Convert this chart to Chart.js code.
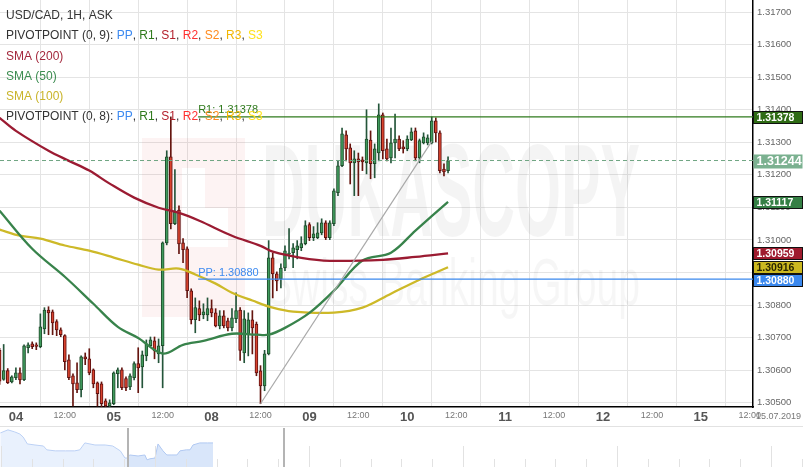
<!DOCTYPE html>
<html>
<head>
<meta charset="utf-8">
<script src="https://cdn.jsdelivr.net/npm/chart.js@4.4.0/dist/chart.umd.min.js"></script>
<style>
  html, body { margin: 0; padding: 0; background: #fff; }
  #wrap { position: relative; width: 803px; height: 467px; overflow: hidden; }
  #main { position: absolute; left: 0; top: 0; width: 803px; height: 425px; }
  #nav { position: absolute; left: 0; top: 425px; width: 803px; height: 42px; }
</style>
</head>
<body>
<div id="wrap">
  <div id="main"><canvas id="priceChart"></canvas></div>
  <div id="nav"><canvas id="navChart"></canvas></div>
</div>
<script>
// Categories: hours counted from 04.07 00:00, week-ends removed
const dayLabels = ['04', '05', '08', '09', '10', '11', '12', '15'];
const firstHour = -4; // first visible candle (03.07 20:00)

// USD/CAD 1H candles
const opens = [
  1.30661, 1.30572, 1.30599, 1.30564, 1.30577, 1.30592, 1.30571, 1.30669, 1.30681, 1.30678,
  1.30672, 1.30727, 1.30785, 1.30779, 1.30749, 1.30724, 1.30706, 1.30632, 1.30583, 1.30561,
  1.30540, 1.30641, 1.30635, 1.30601, 1.30561, 1.30558, 1.30506, 1.30490, 1.30497, 1.30589,
  1.30601, 1.30574, 1.30549, 1.30577, 1.30620, 1.30610, 1.30644, 1.30675, 1.30690, 1.30650,
  1.30675, 1.30991, 1.31255, 1.31050, 1.31092, 1.30991, 1.30973, 1.30844, 1.30755, 1.30789,
  1.30770, 1.30770, 1.30789, 1.30776, 1.30736, 1.30767, 1.30752, 1.30730, 1.30758, 1.30785,
  1.30653, 1.30712, 1.30755, 1.30742, 1.30598, 1.30552, 1.30650, 1.30945, 1.30896, 1.30880,
  1.30914, 1.30957, 1.30961, 1.30970, 1.30976, 1.30989, 1.31047, 1.31007, 1.31007, 1.31022,
  1.31053, 1.31007, 1.31050, 1.31145, 1.31228, 1.31323, 1.31283, 1.31237, 1.31249, 1.31246,
  1.31237, 1.31307, 1.31234, 1.31267, 1.31384, 1.31280, 1.31252, 1.31298, 1.31310, 1.31286,
  1.31280, 1.31307, 1.31335, 1.31252, 1.31298, 1.31298, 1.31298, 1.31366, 1.31329, 1.31218,
  1.31213
];
const highs = [
  1.30667, 1.30679, 1.30605, 1.30583, 1.30607, 1.30607, 1.30678, 1.30684, 1.30687, 1.30684,
  1.30773, 1.30792, 1.30795, 1.30785, 1.30755, 1.30730, 1.30709, 1.30647, 1.30589, 1.30623,
  1.30644, 1.30653, 1.30666, 1.30604, 1.30564, 1.30564, 1.30512, 1.30509, 1.30595, 1.30607,
  1.30607, 1.30580, 1.30589, 1.30626, 1.30669, 1.30659, 1.30693, 1.30702, 1.30702, 1.30696,
  1.30994, 1.31274, 1.31378, 1.31216, 1.31105, 1.31004, 1.30979, 1.30850, 1.30822, 1.30813,
  1.30804, 1.30822, 1.30816, 1.30789, 1.30783, 1.30783, 1.30760, 1.30789, 1.30838, 1.30792,
  1.30783, 1.30776, 1.30783, 1.30748, 1.30614, 1.30661, 1.30998, 1.30960, 1.30902, 1.30927,
  1.30982, 1.31035, 1.30989, 1.30998, 1.31010, 1.31059, 1.31053, 1.31041, 1.31053, 1.31065,
  1.31059, 1.31059, 1.31157, 1.31243, 1.31344, 1.31335, 1.31295, 1.31274, 1.31267, 1.31255,
  1.31400, 1.31335, 1.31295, 1.31418, 1.31390, 1.31310, 1.31344, 1.31387, 1.31320, 1.31305,
  1.31320, 1.31344, 1.31344, 1.31310, 1.31329, 1.31323, 1.31378, 1.31375, 1.31335, 1.31234,
  1.31255
];
const lows = [
  1.30556, 1.30569, 1.30559, 1.30561, 1.30571, 1.30558, 1.30568, 1.30653, 1.30666, 1.30663,
  1.30669, 1.30712, 1.30709, 1.30709, 1.30706, 1.30703, 1.30601, 1.30571, 1.30490, 1.30531,
  1.30518, 1.30617, 1.30586, 1.30546, 1.30490, 1.30488, 1.30486, 1.30486, 1.30494, 1.30546,
  1.30540, 1.30537, 1.30540, 1.30570, 1.30531, 1.30546, 1.30629, 1.30672, 1.30635, 1.30623,
  1.30546, 1.30985, 1.31034, 1.31047, 1.30958, 1.30930, 1.30823, 1.30742, 1.30715, 1.30752,
  1.30758, 1.30752, 1.30764, 1.30733, 1.30727, 1.30730, 1.30721, 1.30721, 1.30746, 1.30630,
  1.30623, 1.30644, 1.30650, 1.30583, 1.30497, 1.30537, 1.30647, 1.30822, 1.30844, 1.30853,
  1.30906, 1.30942, 1.30915, 1.30942, 1.30967, 1.30985, 1.30998, 1.30998, 1.31004, 1.31016,
  1.31001, 1.31001, 1.31044, 1.31136, 1.31225, 1.31243, 1.31172, 1.31136, 1.31136, 1.31213,
  1.31203, 1.31188, 1.31191, 1.31243, 1.31249, 1.31243, 1.31237, 1.31252, 1.31274, 1.31267,
  1.31274, 1.31305, 1.31243, 1.31237, 1.31295, 1.31292, 1.31295, 1.31301, 1.31206, 1.31197,
  1.31206
];
const closes = [
  1.30566, 1.30599, 1.30562, 1.30580, 1.30592, 1.30570, 1.30675, 1.30678, 1.30672, 1.30673,
  1.30733, 1.30785, 1.30776, 1.30745, 1.30724, 1.30709, 1.30626, 1.30577, 1.30558, 1.30540,
  1.30641, 1.30635, 1.30592, 1.30558, 1.30528, 1.30497, 1.30490, 1.30500, 1.30592, 1.30601,
  1.30546, 1.30546, 1.30583, 1.30620, 1.30607, 1.30647, 1.30681, 1.30693, 1.30659, 1.30675,
  1.30991, 1.31255, 1.31050, 1.31086, 1.30988, 1.30970, 1.30844, 1.30755, 1.30792, 1.30770,
  1.30779, 1.30789, 1.30776, 1.30736, 1.30767, 1.30736, 1.30730, 1.30761, 1.30783, 1.30661,
  1.30758, 1.30755, 1.30730, 1.30592, 1.30552, 1.30650, 1.30945, 1.30896, 1.30874, 1.30914,
  1.30967, 1.30960, 1.30976, 1.30982, 1.30989, 1.31044, 1.31007, 1.31019, 1.31022, 1.31053,
  1.31007, 1.31053, 1.31151, 1.31228, 1.31326, 1.31280, 1.31237, 1.31249, 1.31240, 1.31240,
  1.31310, 1.31234, 1.31280, 1.31384, 1.31274, 1.31249, 1.31298, 1.31310, 1.31280, 1.31280,
  1.31310, 1.31332, 1.31252, 1.31305, 1.31317, 1.31314, 1.31366, 1.31329, 1.31213, 1.31209,
  1.31244
];

// Moving averages (read at a few hours)
const sma200Hours = [-4, 0, 8, 13, 18, 23, 29, 35, 40, 45, 53, 60, 63, 70, 77, 90, 98, 106];
const sma200Values = [1.31375, 1.31335, 1.31274, 1.31243, 1.31213, 1.31173, 1.31130, 1.31099, 1.31083,
  1.31059, 1.31013, 1.30982, 1.30964, 1.30945, 1.30936, 1.30939, 1.30948, 1.30959];
const sma50Hours = [-4, 4, 12, 19, 25, 30, 36, 41, 46, 53, 59, 62, 66, 72, 78, 85, 92, 98, 106];
const sma50Values = [1.31090, 1.30973, 1.30887, 1.30804, 1.30733, 1.30699, 1.30651, 1.30678, 1.30690,
  1.30712, 1.30709, 1.30709, 1.30730, 1.30776, 1.30844, 1.30937, 1.30961, 1.31029, 1.31117];
const sma100Hours = [-4, 1, 6, 12, 18, 24, 30, 35, 40, 44, 49, 53, 58, 63, 68, 78, 85, 92, 99, 106];
const sma100Values = [1.31032, 1.31013, 1.31004, 1.30983, 1.30967, 1.30946, 1.30924, 1.30909, 1.30912,
  1.30894, 1.30866, 1.30838, 1.30814, 1.30792, 1.30780, 1.30777, 1.30792, 1.30835, 1.30878, 1.30916];

// Pivot points and trend line
const pivotStart = 44.7;
const ppLevel = 1.30880;
const r1Level = 1.31378;
const trendHours = [60, 102];
const trendValues = [1.30497, 1.31303];

// Navigator (overview of the previous days)
const navHours = [-155, -146, -138, -132, -128, -123, -114, -104, -100, -90, -78, -67, -61, -55, -43, -31,
  -22, -13, -7.5, -5, -2, 8, 16, 18.6, 22, 28, 31.6, 37.5, 42, 48, 54, 57.6, 65, 69.5, 73, 81, 90, 96.7];
const navValues = [1.3164, 1.3176, 1.3168, 1.3160, 1.3148, 1.3121, 1.3117, 1.3113, 1.3098, 1.3094,
  1.3094, 1.3094, 1.3098, 1.3125, 1.3117, 1.3117, 1.3113, 1.3094, 1.3066, 1.3066,
  1.3078, 1.3074, 1.3078, 1.3059, 1.3063, 1.3066, 1.3121, 1.3094, 1.3078, 1.3078,
  1.3078, 1.3094, 1.3098, 1.3098, 1.3117, 1.3125, 1.3125, 1.3125];

// Visible window
const xMin = -3.9, xMax = 180.8;
const yMin = 1.30487, yMax = 1.31737;

const FONT = "Arial, 'Liberation Sans', sans-serif";
const pivotNames = ['PP', 'R1', 'S1', 'R2', 'S2', 'R3', 'S3'];
const pivotColors = ['#3d8af0', '#2f7a1c', '#b3202c', '#ff3030', '#ff8a1c', '#f2b600', '#ffe21a'];

const toPoints = (xs, ys) => xs.map((x, i) => ({ x: x, y: ys[i] }));
const candleHours = opens.map((o, i) => firstHour + i);
const upCandle = opens.map((o, i) => closes[i] >= o);
const lastClose = closes[closes.length - 1];

// Watermark behind the candles
const watermark = {
    id: 'watermark',
    beforeDatasetsDraw(chart) {
        const ctx = chart.ctx;
        ctx.save();
        ctx.fillStyle = 'rgba(225, 40, 40, 0.055)';
        [[142, 138, 40, 179], [182, 138, 63, 30], [182, 247, 63, 70], [205, 168, 40, 40], [228, 208, 17, 39]]
            .forEach(r => ctx.fillRect(r[0], r[1], r[2], r[3]));
        ctx.fillStyle = 'rgba(0, 0, 0, 0.042)';
        ctx.textBaseline = 'alphabetic';
        ctx.font = 'bold 132px ' + FONT;
        let w = ctx.measureText('DUKASCOPY').width;
        ctx.save();
        ctx.translate(262, 236);
        ctx.scale(378 / w, 1);
        ctx.fillText('DUKASCOPY', 0, 0);
        ctx.restore();
        ctx.fillStyle = 'rgba(0, 0, 0, 0.036)';
        ctx.font = '66px ' + FONT;
        w = ctx.measureText('Swiss Banking Group').width;
        ctx.save();
        ctx.translate(266, 305);
        ctx.scale(374 / w, 1);
        ctx.fillText('Swiss Banking Group', 0, 0);
        ctx.restore();
        ctx.restore();
    }
};

// Legend, pivot captions, price tags
const overlay = {
    id: 'overlay',
    afterDraw(chart) {
        const ctx = chart.ctx;
        const xs = chart.scales.x, ys = chart.scales.y;
        ctx.save();

        // pivot captions
        const px0 = xs.getPixelForValue(pivotStart);
        ctx.font = '11px ' + FONT;
        ctx.textAlign = 'left';
        ctx.textBaseline = 'bottom';
        ctx.fillStyle = '#2f7a1c';
        ctx.fillText('R1: ' + r1Level.toFixed(5), px0, ys.getPixelForValue(r1Level) - 1);
        ctx.fillStyle = '#3d8af0';
        ctx.fillText('PP: ' + ppLevel.toFixed(5), px0, ys.getPixelForValue(ppLevel) - 1);

        // legend rows
        const pivotRow = label => {
            const row = [[label, '#333']];
            pivotNames.forEach((n, i) => {
                row.push([n, pivotColors[i]]);
                if (i < pivotNames.length - 1) row.push([', ', '#333']);
            });
            return row;
        };
        const rows = [
            [['USD/CAD, 1H, ASK', '#333']],
            pivotRow('PIVOTPOINT (0, 9): '),
            [['SMA (200)', '#a3283c']],
            [['SMA (50)', '#3c8c50']],
            [['SMA (100)', '#c9b42a']],
            pivotRow('PIVOTPOINT (0, 8): ')
        ];
        ctx.font = '12px ' + FONT;
        ctx.textBaseline = 'middle';
        rows.forEach((row, r) => {
            let x = 6;
            const y = 16 + r * 20.1;
            row.forEach(part => {
                ctx.fillStyle = part[1];
                ctx.fillText(part[0], x, y);
                x += ctx.measureText(part[0]).width;
            });
        });

        // date under the price axis
        ctx.font = '9px ' + FONT;
        ctx.fillStyle = '#777';
        ctx.fillText('15.07.2019', 756, 417);

        // price tags on the right axis
        const tags = [
            { v: r1Level, bg: '#2e6b14', fg: '#fff', line: true },
            { v: lastClose, bg: '#7bb190', fg: '#fff', line: false, big: true },
            { v: sma50Values[sma50Values.length - 1], bg: '#347f44', fg: '#fff', line: true },
            { v: sma200Values[sma200Values.length - 1], bg: '#9e1b2e', fg: '#fff', line: true },
            { v: sma100Values[sma100Values.length - 1], bg: '#cbb820', fg: '#2a2600', line: true },
            { v: ppLevel, bg: '#3a88ee', fg: '#fff', line: true }
        ];
        tags.forEach(t => { t.y = ys.getPixelForValue(t.v); });
        tags.sort((a, b) => a.y - b.y);
        for (let i = 1; i < tags.length; i++) {
            if (tags[i].y - tags[i - 1].y < 12.5) tags[i].y = tags[i - 1].y + 12.5;
        }
        const left = ys.left + 0.5;
        tags.forEach(t => {
            const h = t.big ? 14 : 12;
            const top = Math.round(t.y - h / 2) + 0.5;
            ctx.fillStyle = t.bg;
            ctx.fillRect(left, top, 49, h);
            if (t.line) {
                ctx.strokeStyle = '#111';
                ctx.lineWidth = 1;
                ctx.strokeRect(left, top, 49, h);
            }
            ctx.fillStyle = t.fg;
            ctx.font = (t.big ? 'bold 12.5px ' : 'bold 10.5px ') + FONT;
            ctx.textBaseline = 'middle';
            ctx.fillText(t.v.toFixed(5), left + 3, top + h / 2 + 0.5);
        });
        ctx.restore();
    }
};

// Main price chart
const ctx1 = document.getElementById('priceChart').getContext('2d');
const priceChart = new Chart(ctx1, {
    type: 'bar',
    data: {
        datasets: [
            {
                type: 'line', label: 'Trend', data: toPoints(trendHours, trendValues),
                borderColor: '#a8a8a8', borderWidth: 1.2, pointRadius: 0, order: 0
            },
            {
                type: 'line', label: 'R1', data: toPoints([pivotStart, xMax], [r1Level, r1Level]),
                borderColor: '#2f7a1c', borderWidth: 1.3, pointRadius: 0, order: 1
            },
            {
                type: 'line', label: 'PP', data: toPoints([pivotStart, xMax], [ppLevel, ppLevel]),
                borderColor: '#3a88ee', borderWidth: 1.3, pointRadius: 0, order: 1
            },
            {
                type: 'line', label: 'Last', data: toPoints([xMin, xMax], [lastClose, lastClose]),
                borderColor: '#6fa583', borderWidth: 1, borderDash: [4, 3], pointRadius: 0, order: 1
            },
            {
                type: 'line', label: 'SMA (200)', data: toPoints(sma200Hours, sma200Values),
                borderColor: '#9b1b32', borderWidth: 2.3, pointRadius: 0, tension: 0.35, order: 2
            },
            {
                type: 'line', label: 'SMA (50)', data: toPoints(sma50Hours, sma50Values),
                borderColor: '#38834b', borderWidth: 2.3, pointRadius: 0, tension: 0.35, order: 2
            },
            {
                type: 'line', label: 'SMA (100)', data: toPoints(sma100Hours, sma100Values),
                borderColor: '#cdb928', borderWidth: 2.3, pointRadius: 0, tension: 0.35, order: 2
            },
            {
                label: 'Bodies',
                data: candleHours.map((h, i) => ({ x: h, y: [opens[i], closes[i]] })),
                backgroundColor: upCandle.map(u => u ? '#3f9a5c' : '#d8432e'),
                borderColor: upCandle.map(u => u ? '#1f4a2a' : '#5e1010'),
                borderWidth: 1, borderSkipped: false, barThickness: 3, grouped: false, order: 5
            },
            {
                label: 'Wicks',
                data: candleHours.map((h, i) => ({ x: h, y: [lows[i], highs[i]] })),
                backgroundColor: upCandle.map(u => u ? '#24553a' : '#65150f'),
                borderWidth: 0, barThickness: 1, grouped: false, order: 6
            }
        ]
    },
    options: {
        responsive: true,
        maintainAspectRatio: false,
        animation: false,
        events: [],
        layout: { padding: 0 },
        plugins: { legend: { display: false }, tooltip: { enabled: false } },
        scales: {
            x: {
                type: 'linear', min: xMin, max: xMax, offset: false,
                grid: { color: '#e4e4e4', drawTicks: false },
                border: { display: true, color: '#000', width: 1.5 },
                ticks: {
                    stepSize: 12, includeBounds: false, autoSkip: false, maxRotation: 0, padding: 3,
                    color: c => c.tick && c.tick.value % 24 === 0 ? '#555' : '#777',
                    font: c => c.tick && c.tick.value % 24 === 0
                        ? { family: FONT, size: 13, weight: 'bold' }
                        : { family: FONT, size: 9 },
                    callback: v => v % 24 === 0 ? dayLabels[v / 24] : '12:00'
                },
                afterFit: s => { s.height = 18; s.paddingLeft = 0; s.paddingRight = 0; }
            },
            y: {
                position: 'right', min: yMin, max: yMax,
                grid: { color: '#e4e4e4', drawTicks: false },
                border: { display: true, color: '#000', width: 1.5 },
                ticks: {
                    stepSize: 0.001, includeBounds: false, padding: 4, color: '#666',
                    font: { family: FONT, size: 9.5 },
                    callback: v => v.toFixed(5)
                },
                afterFit: s => { s.width = 50; s.paddingTop = 0; s.paddingBottom = 0; }
            }
        }
    },
    plugins: [watermark, overlay]
});

// Navigator below the time axis
const navMin = -155.4, navMax = 794.9;
const navTickOrigin = 28, navTickStep = 36.45;
const navPoints = toPoints(navHours, navValues);
const navDecor = {
    id: 'navDecor',
    afterDraw(chart) {
        const ctx = chart.ctx, xs = chart.scales.x;
        ctx.save();
        ctx.strokeStyle = '#e2e2e2';
        ctx.lineWidth = 1;
        ctx.beginPath();
        ctx.moveTo(0, 1.5); ctx.lineTo(chart.width, 1.5);
        ctx.stroke();
        let n = Math.ceil((navMin - navTickOrigin) / navTickStep);
        for (let t = navTickOrigin + n * navTickStep; t <= navMax; t += navTickStep, n++) {
            const px = Math.round(xs.getPixelForValue(t)) + 0.5;
            ctx.beginPath();
            ctx.moveTo(px, n % 5 === 0 ? 21 : 34);
            ctx.lineTo(px, 42);
            ctx.stroke();
        }
        ctx.strokeStyle = '#b4b4b4';
        ctx.lineWidth = 2;
        [xMin, xMax].forEach(v => {
            const px = Math.round(xs.getPixelForValue(v));
            ctx.beginPath();
            ctx.moveTo(px, 3); ctx.lineTo(px, 42);
            ctx.stroke();
        });
        ctx.restore();
    }
};
const ctx2 = document.getElementById('navChart').getContext('2d');
const navChart = new Chart(ctx2, {
    type: 'line',
    data: {
        datasets: [
            {
                data: navPoints.filter(p => p.x <= -5), fill: 'start',
                backgroundColor: 'rgba(200, 220, 250, 0.4)', borderColor: '#bcd1f5',
                borderWidth: 1, pointRadius: 0
            },
            {
                data: navPoints.filter(p => p.x >= -5), fill: 'start',
                backgroundColor: 'rgba(170, 200, 245, 0.45)', borderColor: '#b0c8f2',
                borderWidth: 1, pointRadius: 0
            }
        ]
    },
    options: {
        responsive: true,
        maintainAspectRatio: false,
        animation: false,
        events: [],
        layout: { padding: 0 },
        plugins: { legend: { display: false }, tooltip: { enabled: false } },
        scales: {
            x: { type: 'linear', min: navMin, max: navMax, display: false },
            y: { min: 1.3031, max: 1.3195, display: false }
        }
    },
    plugins: [navDecor]
});
</script>
</body>
</html>
